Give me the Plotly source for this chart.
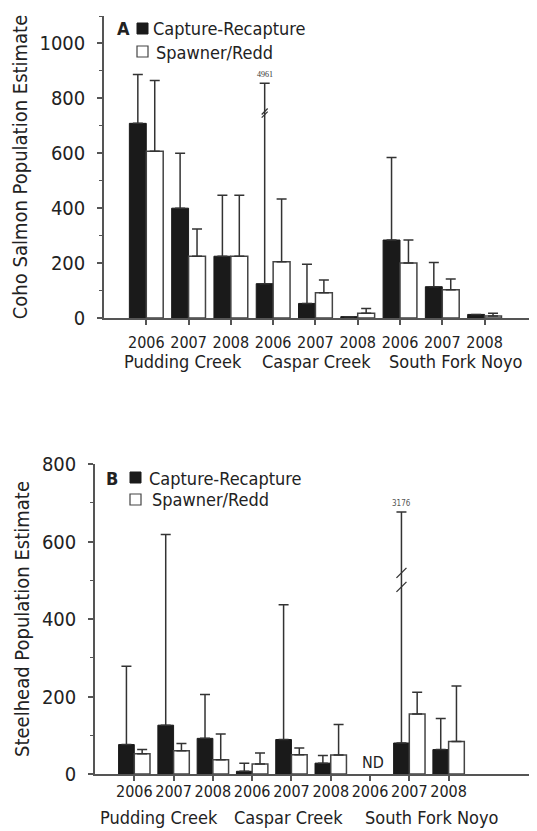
import plotly.graph_objects as go

years = ["2006", "2007", "2008"] * 3
creeks = ["Pudding Creek", "Caspar Creek", "South Fork Noyo"]

# Panel A - Coho salmon
coho_cr = [709, 400, 225, 125, 53, 5, 284, 114, 13]
coho_cr_upper = [887, 600, 447, 855, 196, 5, 585, 202, 13]
coho_sr = [607, 225, 225, 205, 92, 17, 200, 103, 7]
coho_sr_upper = [865, 324, 447, 433, 138, 35, 284, 142, 17]
coho_trunc_idx = 3
coho_trunc_label = "4961"
coho_break_y = [752, 741]

# Panel B - Steelhead (SFN 2006 = ND)
steel_cr = [76, 126, 92, 7, 89, 28, None, 80, 63]
steel_cr_upper = [278, 618, 205, 28, 437, 48, None, 676, 143]
steel_sr = [52, 60, 37, 26, 50, 49, None, 155, 84]
steel_sr_upper = [63, 79, 103, 54, 67, 128, None, 211, 227]
steel_trunc_idx = 7
steel_trunc_label = "3176"
steel_break_y = [519, 483]
steel_nd_idx = 6

FONT = "DejaVu Sans Condensed, DejaVu Sans, sans-serif"
SCR_W, SCR_H = 537, 831
OFF = 8  # page body margin
W, H = SCR_W - OFF, SCR_H - OFF
BLACK = "#1a1a1a"
EDGE = "#444444"
AX = "#555555"


def err(vals, upper):
    return [0 if v is None else u - v for v, u in zip(vals, upper)]


def py(px):  # screen pixel row -> paper fraction
    return (SCR_H - px) / H


def px_x(px):  # screen pixel column -> paper fraction
    return (px - OFF) / W


x_idx = list(range(len(years)))
fig = go.Figure()

for (cr, cru, sr, sru, xa, ya) in [
    (coho_cr, coho_cr_upper, coho_sr, coho_sr_upper, "x", "y"),
    (steel_cr, steel_cr_upper, steel_sr, steel_sr_upper, "x2", "y2"),
]:
    fig.add_trace(go.Bar(
        x=x_idx, y=cr, xaxis=xa, yaxis=ya, name="Capture-Recapture",
        marker=dict(color=BLACK, line=dict(color=BLACK, width=1)),
        error_y=dict(type="data", symmetric=False, array=err(cr, cru),
                     arrayminus=[0] * len(cr), color="#333333", thickness=1.5, width=5),
        showlegend=False))
    fig.add_trace(go.Bar(
        x=x_idx, y=sr, xaxis=xa, yaxis=ya, name="Spawner/Redd",
        marker=dict(color="white", line=dict(color=EDGE, width=1.5)),
        error_y=dict(type="data", symmetric=False, array=err(sr, sru),
                     arrayminus=[0] * len(sr), color="#333333", thickness=1.5, width=5),
        showlegend=False))

# break marks on truncated error bars
fig.add_trace(go.Scatter(
    x=[coho_trunc_idx - 0.2] * len(coho_break_y), y=coho_break_y, xaxis="x", yaxis="y",
    mode="markers", marker=dict(symbol="line-ne", size=6, line=dict(color="#333", width=1.2)),
    showlegend=False, hoverinfo="skip"))
fig.add_trace(go.Scatter(
    x=[steel_trunc_idx - 0.2] * len(steel_break_y), y=steel_break_y, xaxis="x2", yaxis="y2",
    mode="markers", marker=dict(symbol="line-ne", size=10, line=dict(color="#333", width=1.3)),
    showlegend=False, hoverinfo="skip"))

ann = []
ann.append(dict(x=coho_trunc_idx - 0.2, y=coho_cr_upper[coho_trunc_idx], xref="x", yref="y",
                text=coho_trunc_label, showarrow=False, yshift=9,
                font=dict(family="Liberation Serif", size=8, color="#333")))
ann.append(dict(x=steel_trunc_idx - 0.2, y=steel_cr_upper[steel_trunc_idx], xref="x2", yref="y2",
                text=steel_trunc_label, showarrow=False, yshift=9,
                font=dict(family=FONT, size=8, color="#555")))
ann.append(dict(x=steel_nd_idx, y=0, xref="x2", yref="y2", text="ND", showarrow=False,
                yanchor="middle", yshift=12, xshift=3, font=dict(family=FONT, size=16, color="#222")))

# creek group labels
for i, c in enumerate(creeks):
    ann.append(dict(x=3 * i + 1, y=py(362), xref="x", yref="paper", text=c, showarrow=False,
                    xanchor="center", yanchor="middle",
                    xshift=[-6, 1, 14][i], font=dict(family=FONT, size=18, color="#222")))
    ann.append(dict(x=3 * i + 1, y=py(817), xref="x2", yref="paper", text=c, showarrow=False,
                    xanchor="center", yanchor="middle",
                    xshift=[-15, -3, 23][i], font=dict(family=FONT, size=18, color="#222")))

# manual legends
shapes = []
for (lab, lx, sx, tx, r1, r2) in [("A", 123, 137, 151, 29, 52), ("B", 112, 130, 147, 478, 500)]:
    ann.append(dict(x=px_x(lx), y=py(r1), xref="paper", yref="paper", text="<b>%s</b>" % lab,
                    showarrow=False, xanchor="center", yanchor="middle",
                    font=dict(family=FONT, size=18, color="#222")))
    ann.append(dict(x=px_x(tx), y=py(r1), xref="paper", yref="paper", text="Capture-Recapture",
                    showarrow=False, xanchor="left", yanchor="middle",
                    font=dict(family=FONT, size=18, color="#222")))
    ann.append(dict(x=px_x(tx + 3), y=py(r2), xref="paper", yref="paper", text="Spawner/Redd",
                    showarrow=False, xanchor="left", yanchor="middle",
                    font=dict(family=FONT, size=18, color="#222")))
    shapes.append(dict(type="rect", xref="paper", yref="paper", x0=px_x(sx), x1=px_x(sx + 11),
                       y0=py(r1 + 5), y1=py(r1 - 6), fillcolor=BLACK, line=dict(color=BLACK, width=1)))
    shapes.append(dict(type="rect", xref="paper", yref="paper", x0=px_x(sx), x1=px_x(sx + 11),
                       y0=py(r2 + 5), y1=py(r2 - 6), fillcolor="white", line=dict(color=EDGE, width=1.2)))

common_x = dict(tickmode="array", tickvals=x_idx, ticktext=years, showline=True, linecolor=AX,
                linewidth=1.5, ticks="outside", ticklen=5, tickcolor=AX, tickwidth=1.5,
                showgrid=False, zeroline=False, tickfont=dict(family=FONT, size=16, color="#222"),
                automargin=False)
common_y = dict(showline=True, linecolor=AX, linewidth=1.5, ticks="outside", ticklen=5,
                tickcolor=AX, tickwidth=1.5, showgrid=False, zeroline=False,
                tickfont=dict(family=FONT, size=20, color="#222"), ticklabelstandoff=8,
                automargin=False,
                minor=dict(dtick=100, ticks="outside", ticklen=3, tickcolor=AX, tickwidth=1))

fig.update_layout(
    width=W, height=H, margin=dict(l=0, r=0, t=0, b=0, autoexpand=False),
    paper_bgcolor="white", plot_bgcolor="white",
    barmode="group", bargap=0.2, bargroupgap=0,
    xaxis=dict(domain=[px_x(104), 1], range=[-1, 9.24], anchor="y", ticklabelstandoff=4, **common_x),
    yaxis=dict(domain=[py(318), py(16)], range=[0, 1100], dtick=200, anchor="x",
               title=dict(text="Coho Salmon Population Estimate", standoff=7,
                          font=dict(family=FONT, size=20, color="#222")), **common_y),
    xaxis2=dict(domain=[px_x(95), 1], range=[-1, 10.25], anchor="y2", ticklabelstandoff=-3, **common_x),
    yaxis2=dict(domain=[py(774), py(464)], range=[0, 800], dtick=200, anchor="x2",
                title=dict(text="Steelhead Population Estimate", standoff=7,
                           font=dict(family=FONT, size=20, color="#222")), **common_y),
    annotations=ann, shapes=shapes,
)

fig.write_html("out.html")
